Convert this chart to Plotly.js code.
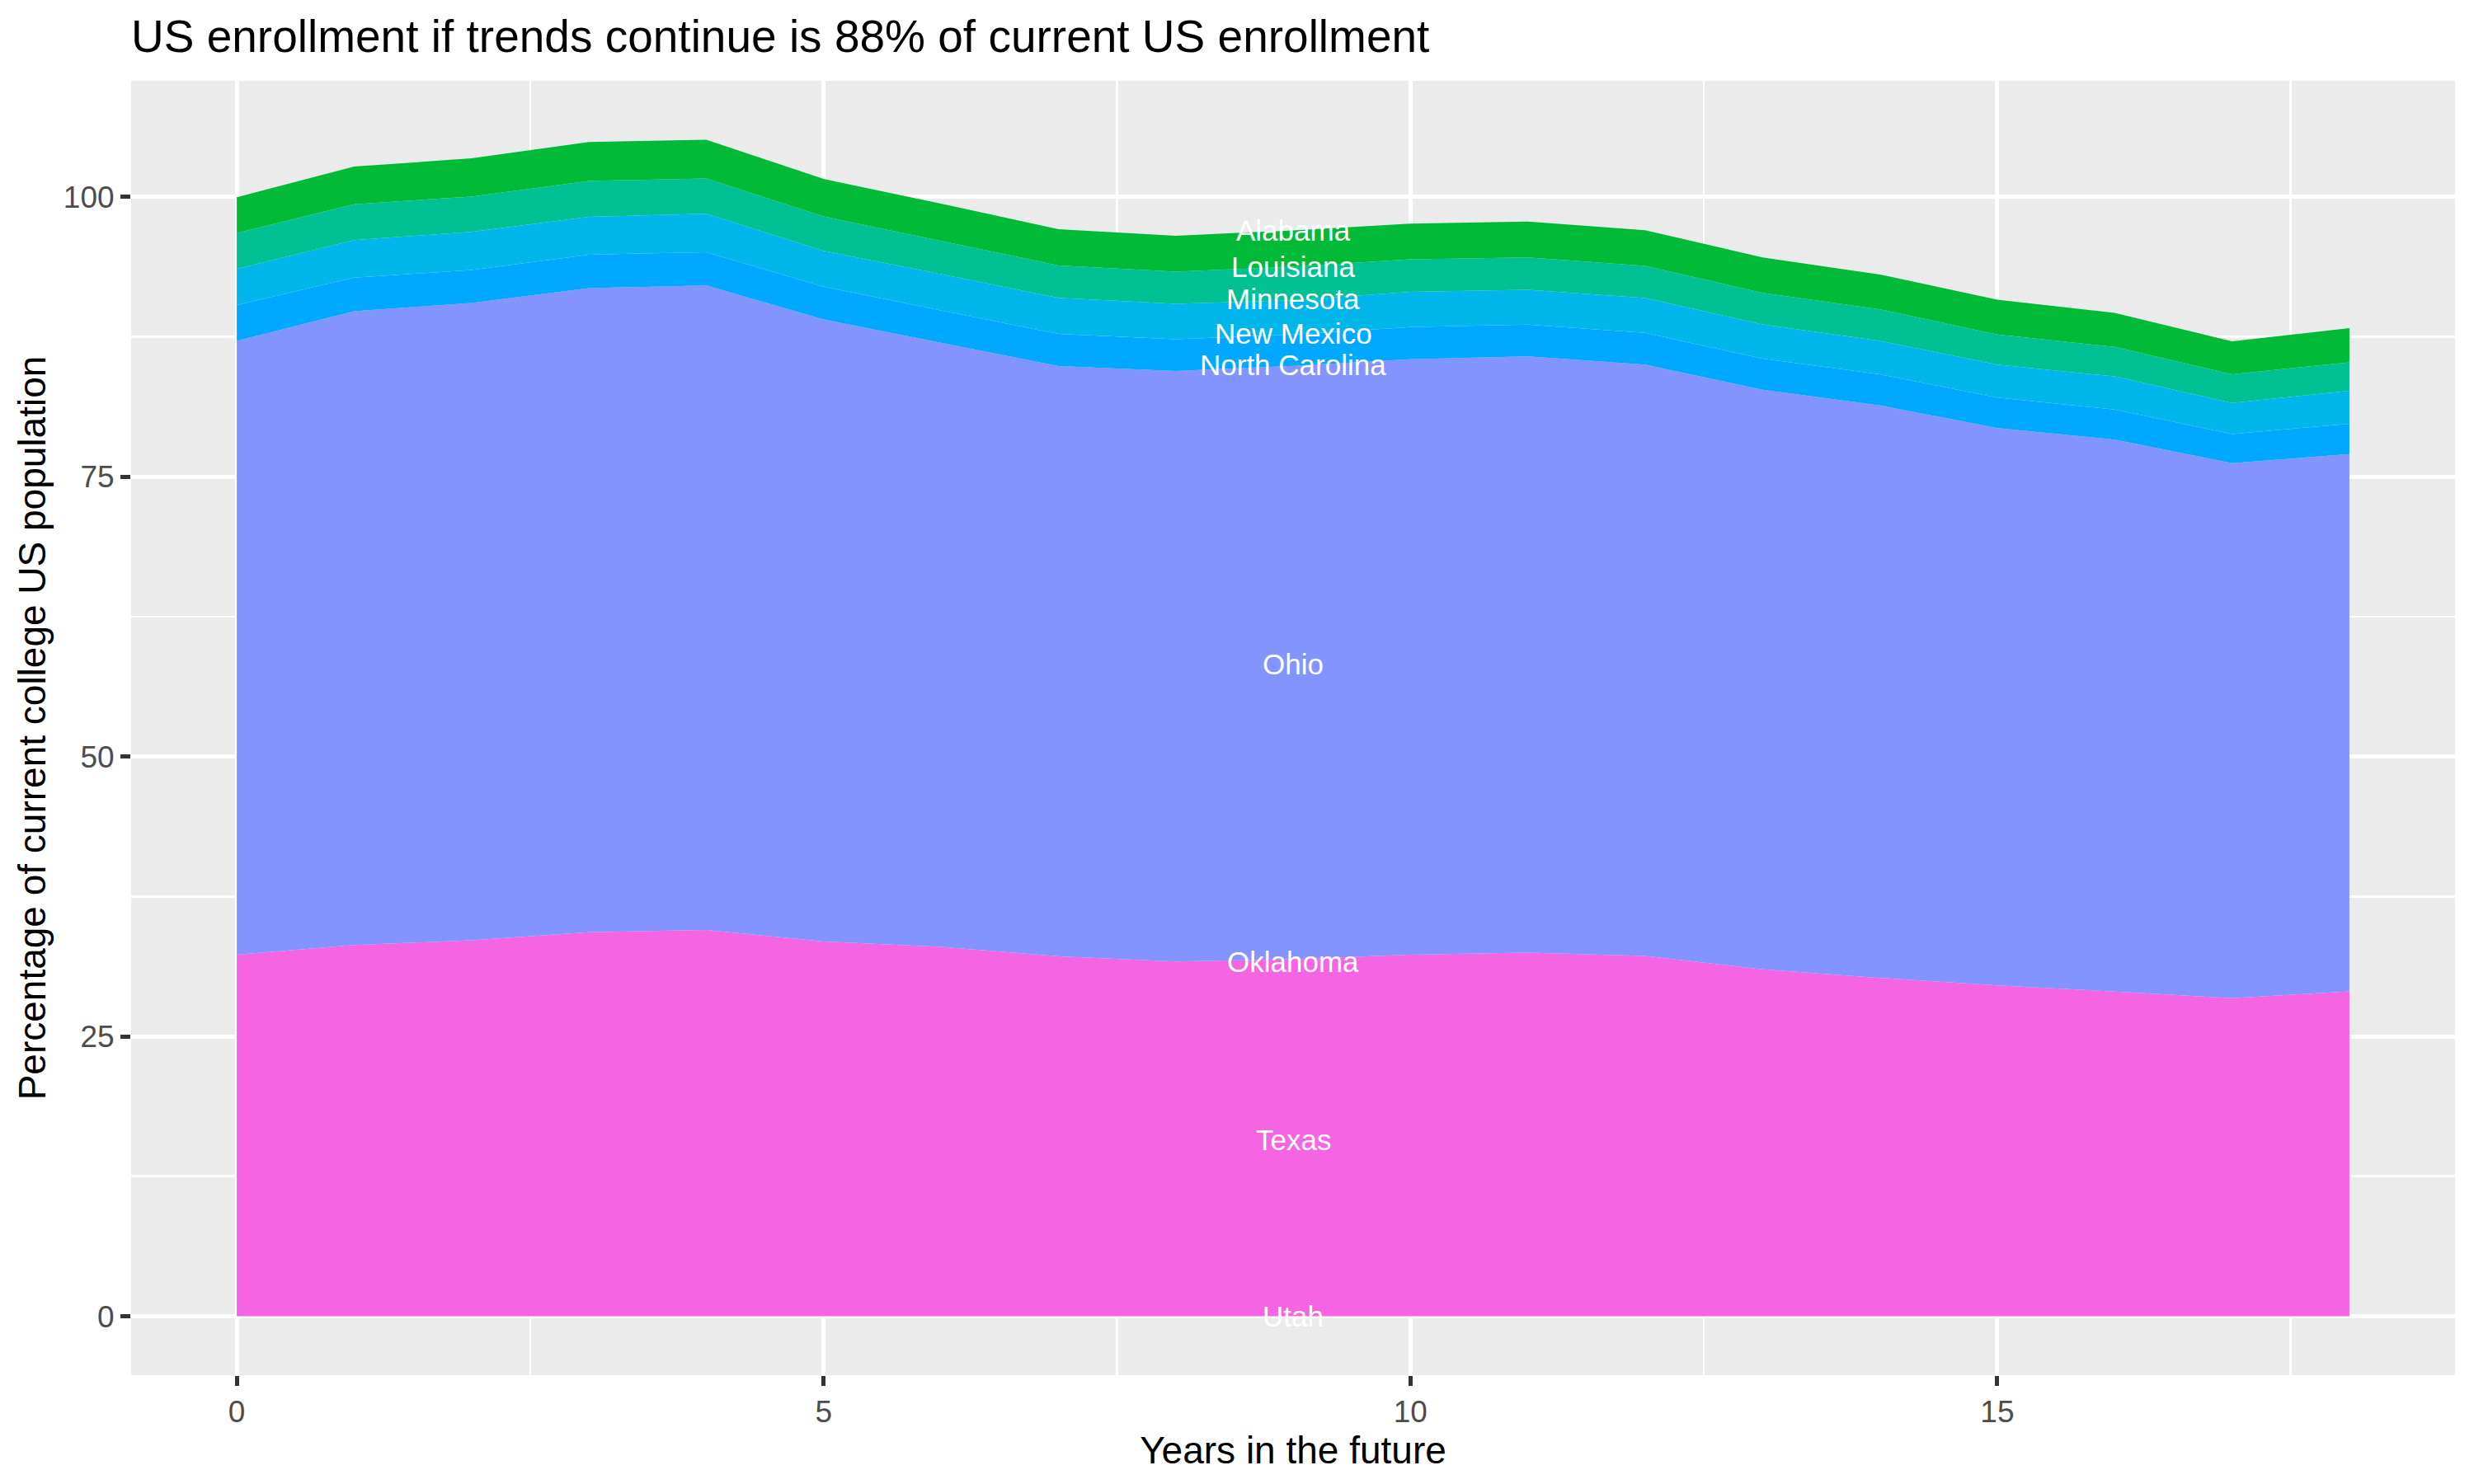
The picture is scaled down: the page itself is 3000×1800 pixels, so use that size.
<!DOCTYPE html>
<html>
<head>
<meta charset="utf-8">
<script src="https://cdn.plot.ly/plotly-3.0.1.min.js"></script>
<style>
  body { margin: 0; background: #ffffff; }
  #grapharea { width: 3000px; height: 1800px; }
</style>
</head>
<body>
<div id="grapharea"></div>
<script>
//Years out and each state's share of the current college US population (stacked, Texas at the bottom)
var years = [0, 1, 2, 3, 4, 5, 6, 7, 8, 9, 10, 11, 12, 13, 14, 15, 16, 17, 18];
var texas = [32.30, 33.16, 33.58, 34.31, 34.51, 33.48, 33.00, 32.16, 31.69, 31.90, 32.30, 32.48, 32.18, 31.00, 30.22, 29.56, 29.00, 28.41, 29.02];
var ohio = [54.83, 56.62, 56.93, 57.53, 57.57, 55.56, 53.96, 52.72, 52.75, 53.00, 53.19, 53.26, 52.82, 51.77, 51.15, 49.78, 49.31, 47.79, 47.99];
var newMexico = [3.19, 2.99, 2.95, 2.99, 2.97, 2.92, 2.89, 2.87, 2.84, 2.80, 2.87, 2.84, 2.84, 2.77, 2.77, 2.72, 2.69, 2.60, 2.72];
var minnesota = [3.23, 3.36, 3.40, 3.38, 3.43, 3.21, 3.24, 3.23, 3.16, 3.05, 3.14, 3.11, 3.12, 3.06, 2.99, 2.94, 2.95, 2.79, 2.94];
var louisiana = [3.21, 3.21, 3.16, 3.21, 3.16, 3.07, 2.96, 2.89, 2.87, 3.00, 2.91, 2.89, 2.86, 2.82, 2.82, 2.70, 2.64, 2.55, 2.55];
var alabama = [3.19, 3.36, 3.41, 3.48, 3.46, 3.35, 3.34, 3.24, 3.21, 3.25, 3.19, 3.21, 3.19, 3.16, 3.11, 3.11, 3.04, 2.94, 3.04];

//State name labels, all written at year 9
var labelStates = ["Alabama", "Louisiana", "Minnesota", "New Mexico", "North Carolina", "Ohio", "Oklahoma", "Texas", "Utah"];
var labelY = [97.0, 93.75, 90.9, 87.8, 85.0, 58.25, 31.7, 15.8, 0];
var labelYear = 9;

var fontName = '"Liberation Sans", Arial, Helvetica, sans-serif';

//one stacked band per state
function band(name, vals, colour)
{
        return {
                x: years,
                y: vals,
                name: name,
                type: 'scatter',
                mode: 'lines',
                stackgroup: 'one',
                line: {width: 0},
                fillcolor: colour,
                hoverinfo: 'skip'
        };
}

var data = [
        band('Texas', texas, '#F564E3'),
        band('Ohio', ohio, '#8494FF'),
        band('New Mexico', newMexico, '#00A9FF'),
        band('Minnesota', minnesota, '#00B6EB'),
        band('Louisiana', louisiana, '#00C094'),
        band('Alabama', alabama, '#00BA38')
];

var notes = [];
for (var i = 0; i < labelStates.length; i++) {
        notes.push({
                x: labelYear, y: labelY[i], xref: 'x', yref: 'y',
                text: labelStates[i], showarrow: false,
                xanchor: 'center', yanchor: 'middle',
                font: {family: fontName, size: 35, color: '#ffffff'}
        });
}

var layout = {
        width: 3000,
        height: 1800,
        paper_bgcolor: '#ffffff',
        plot_bgcolor: '#EBEBEB',
        showlegend: false,
        margin: {l: 159, r: 23, t: 98, b: 132, pad: 0},
        font: {family: fontName, color: '#000000'},
        title: {
                text: 'US enrollment if trends continue is 88% of current US enrollment',
                font: {family: fontName, size: 55, color: '#000000'},
                x: 159 / 3000, xref: 'container', xanchor: 'left',
                y: 1 - 44 / 1800, yref: 'container', yanchor: 'middle'
        },
        xaxis: {
                range: [-0.9, 18.9],
                tickmode: 'linear', tick0: 0, dtick: 5,
                showgrid: true, gridcolor: '#ffffff', gridwidth: 5,
                minor: {dtick: 2.5, tick0: 0, showgrid: true, gridcolor: '#ffffff', gridwidth: 2.7},
                zeroline: false, showline: false,
                ticks: 'outside', ticklen: 12, tickwidth: 5, tickcolor: '#333333',
                tickfont: {family: fontName, size: 37, color: '#4D4D4D'},
                title: {text: 'Years in the future', font: {family: fontName, size: 46, color: '#000000'}, standoff: 3}
        },
        yaxis: {
                range: [-5.26, 110.36],
                tickvals: [0, 25, 50, 75, 100],
                showgrid: true, gridcolor: '#ffffff', gridwidth: 5,
                minor: {tickvals: [12.5, 37.5, 62.5, 87.5], showgrid: true, gridcolor: '#ffffff', gridwidth: 2.7},
                zeroline: false, showline: false,
                ticks: 'outside', ticklen: 12, tickwidth: 5, tickcolor: '#333333',
                tickfont: {family: fontName, size: 37, color: '#4D4D4D'},
                title: {text: 'Percentage of current college US population', font: {family: fontName, size: 46, color: '#000000'}, standoff: 6}
        },
        annotations: notes
};

try {Plotly.newPlot('grapharea', data, layout, {staticPlot: true});}
catch(err) {document.body.innerHTML = err;}
</script>
</body>
</html>
